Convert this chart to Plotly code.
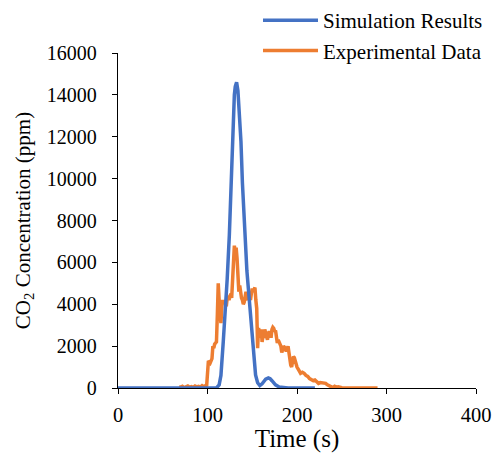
import plotly.graph_objects as go

# Simulation results (time s, CO2 ppm)
sim_t = [0, 50, 100, 110, 113, 115, 117.6, 120.2, 122, 124.4, 126, 127.6, 129, 130, 131, 132.5,
         134, 135, 136, 137.4, 139, 141.9, 144, 147.5, 150.4, 152, 153.7, 156, 158.5, 161, 163,
         165, 168, 170, 172, 174, 176, 180, 185, 190, 200, 220]
sim_v = [0, 0, 0, 0, 150, 600, 2200, 3800, 5200, 7300, 9300, 11760, 13200, 14000, 14400, 14600,
         14200, 13600, 12800, 11760, 9800, 7300, 5600, 3800, 2200, 1300, 620, 250, 120, 200, 320,
         420, 480, 440, 350, 250, 150, 50, 15, 5, 0, 0]

# Experimental data (time s, CO2 ppm)
exp_t = [68, 70, 72, 74, 76, 78, 80, 82, 84, 86, 88, 90, 92, 94, 96, 98, 99, 100, 101, 103, 105,
         106, 107, 108, 110, 111, 112, 113, 114, 115, 116, 117, 118, 119, 120, 121, 122, 123, 124,
         125, 126, 127, 128, 129, 130, 131, 132, 133, 134, 135, 136, 137, 138, 139, 140, 141, 142,
         143, 144, 145, 146, 147, 148, 149, 150, 151, 152, 153, 154, 155, 156, 157, 158, 159, 160,
         161, 162, 163, 164, 165, 166, 167, 168, 169, 170, 171, 172, 173, 174, 175, 176, 177, 178,
         179, 180, 181, 182, 183, 184, 185, 186, 187, 188, 189, 190, 191, 192, 193, 194, 195, 196,
         197, 198, 199, 200, 202, 204, 206, 208, 210, 212, 214, 216, 218, 220, 222, 224, 226, 228,
         230, 232, 234, 236, 238, 240, 242, 244, 246, 248, 250, 260, 270, 280, 290]
exp_v = [50, 30, 80, 20, 60, 100, 40, 70, 30, 90, 50, 80, 40, 110, 60, 120, 80, 1100, 1300, 1200, 1400,
         2000, 1900, 2100, 2200, 3500, 5000, 4200, 3300, 3100, 3900, 4200, 4000, 4200, 4100, 3900, 4300, 4400, 4200,
         4400, 4500, 4300, 5200, 6000, 6800, 6500, 6700, 6200, 5400, 4600, 4900, 4500, 4300, 4200, 4000, 4100, 4400,
         4600, 4300, 4200, 4500, 4300, 4200, 4500, 4750, 4600, 4700, 4800, 4200, 3800, 1900, 2860, 2700, 2400, 2800,
         2200, 2500, 2400, 2800, 2600, 2500, 2300, 2600, 2700, 2600, 2400, 2800, 2900, 2850, 2700, 2750, 2500, 2150,
         2300, 2200, 2100, 2000, 1700, 1900, 2000, 1950, 1800, 1750, 1850, 2000, 1700, 1350, 1100, 1000, 1400, 1500,
         1450, 1300, 1200, 1000, 850, 700, 750, 700, 600, 550, 450, 420, 350, 380, 300, 220, 260, 240,
         200, 220, 150, 100, 50, 20, 80, 40, 60, 30, 10, 0, 0, 0, 0]

x_ticks = [0, 100, 200, 300, 400]
y_ticks = [0, 2000, 4000, 6000, 8000, 10000, 12000, 14000, 16000]
y_tick_labels = [str(v) for v in y_ticks]

FONT = "Times New Roman, Liberation Serif, serif"

fig = go.Figure()
fig.add_trace(go.Scatter(x=exp_t, y=exp_v, mode="lines", name="Experimental Data",
                         line=dict(color="#ED7D31", width=3.5), legendrank=2))
fig.add_trace(go.Scatter(x=sim_t, y=sim_v, mode="lines", name="Simulation Results",
                         line=dict(color="#4472C4", width=3.5), legendrank=1))

fig.update_layout(
    width=497, height=453,
    margin=dict(l=118, r=21, t=53, b=65, autoexpand=False),
    paper_bgcolor="white", plot_bgcolor="white",
    font=dict(family=FONT, size=20, color="black"),
    legend=dict(xref="container", yref="container", x=258 / 497, y=1.0,
                xanchor="left", yanchor="top", bgcolor="rgba(0,0,0,0)",
                font=dict(size=21), itemwidth=55, tracegroupgap=0),
    xaxis=dict(range=[0, 400], tickvals=x_ticks, showline=True, linecolor="black", linewidth=1.3,
               ticks="outside", ticklen=5, tickcolor="black", showgrid=False, zeroline=False,
               automargin=False, ticklabelstandoff=3, tickfont=dict(size=20.5),
               title=dict(text="Time (s)", font=dict(size=25), standoff=9)),
    yaxis=dict(range=[0, 16000], tickvals=y_ticks, ticktext=y_tick_labels, showline=True,
               linecolor="black", linewidth=1.3,
               ticks="outside", ticklen=5, tickcolor="black", showgrid=False, zeroline=False,
               automargin=False, ticklabelstandoff=11, tickfont=dict(size=20),
               title=dict(text="CO<sub>2</sub> Concentration (ppm)", font=dict(size=21), standoff=10)),
)

fig.write_html("out.html", config={"displayModeBar": False},
               post_script="document.body.style.margin='0';")
